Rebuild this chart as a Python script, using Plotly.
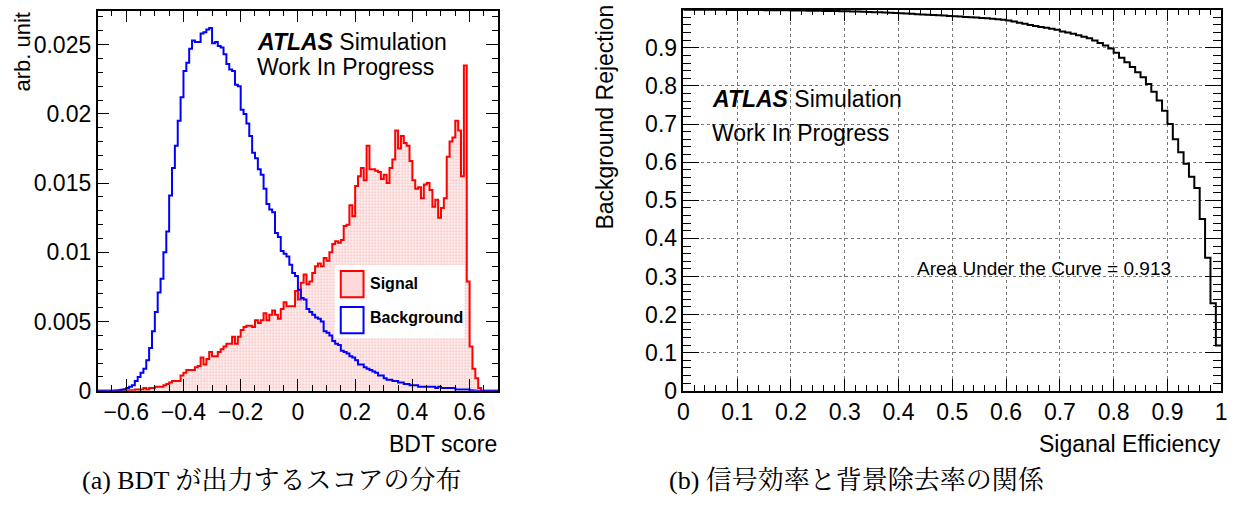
import numpy as np
import plotly.graph_objects as go

W, H = 1249, 512

# ---------------- data: BDT score histograms (bin width 0.01 from -0.70) ----------------
BIN_LO = -0.70
BIN_W = 0.01

background = [
    0, 0, 0, 0, 0, 0, 0.00002, 0.00004, 0.00008, 0.00012,
    0.0002, 0.0003, 0.0004, 0.0007, 0.0010, 0.0013, 0.0016, 0.0022, 0.0031, 0.0043,
    0.0057, 0.0071, 0.0081, 0.0100, 0.0115, 0.0141, 0.0161, 0.0177, 0.0195, 0.0212,
    0.0231, 0.0237, 0.0247, 0.0253, 0.0252, 0.0252, 0.0258, 0.0259, 0.0261, 0.0262,
    0.0251, 0.0252, 0.0249, 0.0248, 0.0243, 0.0236, 0.0232, 0.0231, 0.0221, 0.0220,
    0.0203, 0.0200, 0.0193, 0.0184, 0.0172, 0.0168, 0.0160, 0.0156, 0.0146, 0.0135,
    0.0131, 0.0129, 0.0114, 0.0111, 0.0101, 0.0099, 0.0097, 0.0091, 0.0085, 0.0083,
    0.0073, 0.0067, 0.0066, 0.0059, 0.0057, 0.0055, 0.0053, 0.0052, 0.0050, 0.0043,
    0.0042, 0.0040, 0.0036, 0.0034, 0.0033, 0.0029, 0.0028, 0.0027, 0.0025, 0.0024,
    0.0022, 0.0019, 0.0019, 0.0017, 0.0016, 0.0015, 0.0014, 0.0013, 0.0011, 0.0011,
    0.0009, 0.0008, 0.0008, 0.0007, 0.0007, 0.0006, 0.0006, 0.0005, 0.0005, 0.0004,
    0.0004, 0.0004, 0.0003, 0.0003, 0.0003, 0.0003, 0.0003, 0.0003, 0.0002, 0.0003,
    0.0002, 0.0002, 0.0002, 0.0002, 0.0002, 0.0001, 0.0001, 0.0001, 0.0001, 0.0001,
    0.00005, 0.00003, 0, 0, 0, 0, 0, 0, 0, 0,
]

signal = [
    0, 0, 0, 0, 0, 0, 0, 0, 0, 0,
    0.00003, 0.00005, 0.00005, 0.0001, 0.0001, 0.0001, 0.0002, 0.0001, 0.0002, 0.0002,
    0.0003, 0.0003, 0.0003, 0.0004, 0.0005, 0.0006, 0.0007, 0.0007, 0.0007, 0.0011,
    0.0013, 0.0015, 0.0015, 0.0015, 0.0017, 0.0018, 0.0024, 0.0019, 0.0023, 0.0028,
    0.0025, 0.0025, 0.0028, 0.0030, 0.0032, 0.0034, 0.0034, 0.0039, 0.0034, 0.0039,
    0.0044, 0.0046, 0.0047, 0.0047, 0.0046, 0.0051, 0.0049, 0.0051, 0.0056, 0.0051,
    0.0055, 0.0058, 0.0055, 0.0052, 0.0059, 0.0064, 0.0061, 0.0061, 0.0061, 0.0072,
    0.0066, 0.0078, 0.0084, 0.0077, 0.0079, 0.0085, 0.0090, 0.0092, 0.0090, 0.0096,
    0.0094, 0.0100, 0.0106, 0.0108, 0.0107, 0.0109, 0.0119, 0.0120, 0.0134, 0.0126,
    0.0148, 0.0155, 0.0161, 0.0152, 0.0177, 0.0160, 0.0160, 0.0159, 0.0158, 0.0153,
    0.0156, 0.0150, 0.0161, 0.0167, 0.0188, 0.0175, 0.0184, 0.0179, 0.0177, 0.0166,
    0.0152, 0.0146, 0.0147, 0.0139, 0.0149, 0.0150, 0.0145, 0.0133, 0.0138, 0.0125,
    0.0132, 0.0139, 0.0169, 0.0180, 0.0183, 0.0195, 0.0188, 0.0155, 0.0235, 0.0079,
    0.0032, 0.0016, 0.0009, 0.0002, 0, 0, 0, 0, 0, 0,
]

# ---------------- data: ROC curve (100 efficiency bins of 0.01) ----------------
ROC_W = 0.01
rejection = [
    1.0, 1.0, 1.0, 0.9999, 0.9999, 0.9998, 0.9998, 0.9997, 0.9996, 0.9995,
    0.9995, 0.9994, 0.9993, 0.9992, 0.9991, 0.9990, 0.9989, 0.9988, 0.9986, 0.9984,
    0.9982, 0.9980, 0.9978, 0.9976, 0.9974, 0.9972, 0.9970, 0.9968, 0.9965, 0.9962,
    0.9959, 0.9955, 0.9951, 0.9947, 0.9942, 0.9937, 0.9932, 0.9926, 0.9920, 0.9913,
    0.9906, 0.9899, 0.9892, 0.9885, 0.9878, 0.9870, 0.9862, 0.9854, 0.9846, 0.9838,
    0.9830, 0.9821, 0.9812, 0.9803, 0.9794, 0.9784, 0.9774, 0.9763, 0.9752, 0.9740,
    0.9715, 0.9690, 0.9660, 0.9630, 0.9600, 0.9575, 0.9550, 0.9525, 0.9500, 0.9475,
    0.9430, 0.9400, 0.9370, 0.9330, 0.9290, 0.9250, 0.9190, 0.9130, 0.9060, 0.8980,
    0.887, 0.874, 0.862, 0.850, 0.836, 0.823, 0.805, 0.785, 0.762, 0.735,
    0.700, 0.660, 0.626, 0.596, 0.562, 0.532, 0.451, 0.349, 0.230, 0.119,
]
AUC_TEXT = "Area Under the Curve = 0.913"

# ---------------- helpers ----------------
def px(x):
    return x / W

def py(y):
    return 1 - y / H

def step_xy(lo, w, vals):
    edges = np.round(lo + w * np.arange(len(vals) + 1), 4)
    return edges, list(vals) + [vals[-1]]

SANS = "Liberation Sans, Arial, Helvetica, sans-serif"
SERIF = "Liberation Serif, Noto Serif CJK JP, Noto Sans CJK JP, serif"

fig = go.Figure()

xs, ys = step_xy(BIN_LO, BIN_W, signal)
fig.add_trace(go.Scatter(
    x=xs, y=ys, mode="lines", line=dict(color="red", width=2, shape="hv"),
    fill="tozeroy",
    fillcolor="rgba(255,0,0,0.10)",
    fillpattern=dict(shape=".", fgcolor="rgba(230,60,60,0.6)", bgcolor="rgba(255,0,0,0.05)",
                     size=3, solidity=0.35),
    xaxis="x", yaxis="y", showlegend=False, hoverinfo="skip"))

xb, yb = step_xy(BIN_LO, BIN_W, background)
fig.add_trace(go.Scatter(
    x=xb, y=yb, mode="lines", line=dict(color="blue", width=2, shape="hv"),
    xaxis="x", yaxis="y", showlegend=False, hoverinfo="skip"))

xr, yr = step_xy(0.0, ROC_W, rejection)
fig.add_trace(go.Scatter(
    x=xr, y=yr, mode="lines", line=dict(color="black", width=2, shape="hv"),
    xaxis="x2", yaxis="y2", showlegend=False, hoverinfo="skip"))

tickfont = dict(family=SANS, size=23, color="black")

def axis(domain, rng, dtick, ticklen, mdtick, mlen, grid=False, anchor=None):
    d = dict(
        domain=domain, range=rng, dtick=dtick, tick0=0, ticks="inside",
        ticklen=ticklen, tickwidth=1, tickcolor="black",
        minor=dict(ticks="inside", ticklen=mlen, dtick=mdtick, tick0=0,
                   tickcolor="black", tickwidth=1, showgrid=False),
        showline=True, linecolor="black", linewidth=1.5, mirror="allticks",
        zeroline=False, tickfont=tickfont, anchor=anchor,
        showgrid=grid, gridcolor="#777", griddash="dot", gridwidth=1,
    )
    return d

ydom = [py(401), py(11)]
fig.update_layout(
    width=W, height=H, margin=dict(l=0, r=0, t=0, b=0),
    paper_bgcolor="white", plot_bgcolor="white",
    xaxis=axis([px(92.5), px(497)], [-0.7, 0.7], 0.2, 12, 0.05, 6, anchor="y"),
    yaxis=axis(ydom, [0, 0.02745], 0.005, 12, 0.001, 6, anchor="x"),
    xaxis2=axis([px(684), px(1227)], [0, 1], 0.1, 12, 0.02, 6, grid=True, anchor="y2"),
    yaxis2=axis([py(401), py(10)], [0, 1], 0.1, 16, 0.02, 8, grid=True, anchor="x2"),
)

shapes = [
    # legend box
    dict(type="rect", xref="paper", yref="paper", x0=px(332), x1=px(463), y0=py(347), y1=py(272),
         fillcolor="white", line=dict(width=0), layer="above"),
    dict(type="rect", xref="paper", yref="paper", x0=px(338), x1=px(361), y0=py(305), y1=py(278),
         fillcolor="rgba(255,0,0,0.15)", line=dict(color="red", width=2), layer="above"),
    dict(type="rect", xref="paper", yref="paper", x0=px(338), x1=px(361), y0=py(342), y1=py(315),
         fillcolor="white", line=dict(color="blue", width=2), layer="above"),
]
fig.update_layout(shapes=shapes)

def ann(text, x, y, size, xanchor="left", yanchor="middle", family=SANS, angle=0):
    return dict(text=text, x=px(x), y=py(y), xref="paper", yref="paper", showarrow=False,
                xanchor=xanchor, yanchor=yanchor, textangle=angle,
                font=dict(family=family, size=size, color="black"))

annotations = [
    ann("<b><i>ATLAS</i></b> Simulation", 251, 43, 23),
    ann("Work In Progress", 251, 69, 23),
    ann("<b>Signal</b>", 366, 291, 16),
    ann("<b>Background</b>", 366, 326, 16),
    ann("arb. unit", 17, 10, 22, xanchor="center", yanchor="top", angle=-90),
    ann("BDT score", 498, 456, 23, xanchor="right"),
    ann("<b><i>ATLAS</i></b> Simulation", 711, 102, 23),
    ann("Work In Progress", 711, 136, 23),
    ann(AUC_TEXT, 918, 276, 19),
    ann("Background Rejection", 605, 3, 23, xanchor="center", yanchor="top", angle=-90),
    ann("Siganal Efficiency", 1229, 456, 23, xanchor="right"),
    ann("(a) BDT が出力するスコアの分布", 75, 493, 26, family=SERIF),
    ann("(b) 信号効率と背景除去率の関係", 667, 493, 26, family=SERIF),
]
fig.update_layout(annotations=annotations)

fig.write_html("out.html")
